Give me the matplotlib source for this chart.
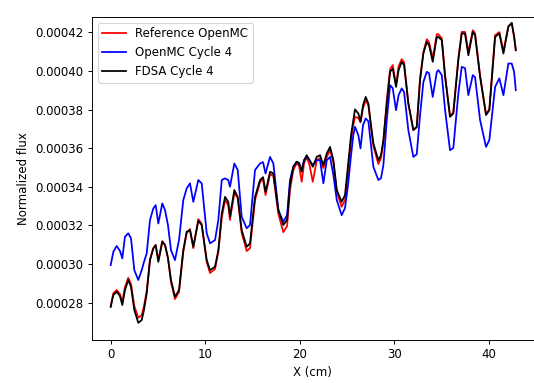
import matplotlib
matplotlib.use("Agg")
import matplotlib.pyplot as plt
import numpy as np

# x positions (cm)
x_cm = [0.00, 0.28, 0.63, 0.98, 1.23, 1.51, 1.86, 2.15, 2.50, 2.92, 3.28, 3.52, 3.81, 4.16, 4.51, 4.76, 5.04, 5.46, 5.75,
        6.06, 6.38, 6.80, 7.23, 7.68, 8.04, 8.39, 8.74, 9.27, 9.63, 10.16, 10.51, 11.04, 11.39,
        11.75, 12.10, 12.44, 12.62, 13.08, 13.44, 13.86, 14.39, 14.74, 15.27, 15.80, 16.12, 16.38, 16.86, 17.21, 17.74, 18.26, 18.66, 18.97,
        19.32, 19.68, 19.93, 20.21, 20.46, 20.74, 21.04, 21.38, 21.80, 22.15, 22.50, 22.86, 23.21, 23.56, 23.92, 24.44, 24.79,
        25.11, 25.43, 25.67, 25.85, 26.20, 26.43, 26.70, 26.98, 27.26, 27.54, 27.79, 28.32, 28.60, 28.85, 29.21, 29.56, 29.84, 30.19, 30.46, 30.79, 31.04, 31.49, 32.02, 32.38, 32.73,
        33.08, 33.44, 33.68, 34.07, 34.50, 34.67, 35.03, 35.38, 35.90, 36.25, 36.78, 37.14, 37.49, 37.84, 38.31, 38.55, 39.08, 39.71, 40.06, 40.67, 41.12, 41.55, 42.07, 42.43, 42.68, 42.86]

# flux values in units of 1e-5
ref_openmc = [27.82, 28.49, 28.65, 28.44, 28.03, 28.80, 29.29, 28.96, 27.82, 27.21, 27.35, 27.82, 28.60, 30.25, 30.82, 30.98, 30.20, 31.19, 30.98,
              30.31, 29.06, 28.18, 28.54, 30.62, 31.60, 31.81, 30.82, 32.33, 32.07, 30.10, 29.53, 29.74, 30.62,
              32.38, 33.31, 33.05, 32.28, 33.67, 33.42, 31.60, 30.67, 30.82, 33.31, 34.24, 34.40, 33.57, 34.66, 34.55, 32.59, 31.65, 31.96, 33.83,
              34.87, 35.23, 35.07, 34.26, 35.23, 35.54, 35.12, 34.26, 35.38, 35.49, 34.97, 35.54, 35.90, 35.28, 33.73, 32.96, 33.31,
              34.76, 36.42, 37.20, 37.63, 37.56, 37.35, 38.08, 38.49, 38.23, 37.09, 36.11, 35.18, 35.49, 36.32, 38.49, 40.10, 40.31, 39.27, 40.25, 40.62, 40.46, 38.34, 36.94, 37.09, 39.63,
              40.98, 41.65, 41.50, 40.67, 41.91, 41.91, 41.70, 39.79, 37.66, 37.87, 40.67, 42.03, 42.03, 40.98, 42.12, 41.96, 39.79, 37.77, 38.03, 41.86, 42.02, 41.03, 42.33, 42.48, 41.81, 41.08]

openmc_c4 = [29.94, 30.63, 30.93, 30.68, 30.29, 31.41, 31.59, 31.33, 29.68, 29.17, 29.68, 30.10, 30.55, 32.28, 32.88, 33.05, 32.10, 33.14, 32.79,
             32.02, 30.72, 30.20, 31.24, 33.31, 33.92, 34.18, 33.22, 34.35, 34.18, 31.59, 31.07, 31.24, 32.28,
             34.35, 34.44, 34.35, 34.00, 35.21, 34.87, 32.45, 31.85, 32.02, 34.87, 35.21, 35.28, 34.69, 35.55, 35.21, 32.79, 32.19, 32.53, 34.35,
             35.04, 35.30, 35.23, 34.87, 35.38, 35.54, 35.38, 35.12, 35.38, 35.38, 34.18, 35.38, 35.55, 34.61, 33.31, 32.53, 32.90,
             34.09, 35.64, 36.68, 37.11, 36.68, 35.99, 37.20, 37.54, 37.40, 36.16, 35.04, 34.35, 34.45, 35.12, 37.46, 39.27, 39.11, 37.97, 38.75, 39.10, 38.91, 36.94, 35.55, 35.69, 37.72,
             39.43, 39.96, 39.89, 38.66, 39.94, 40.05, 39.79, 37.97, 35.90, 36.01, 38.84, 40.22, 40.15, 38.75, 39.79, 39.68, 37.46, 36.07, 36.42, 39.18, 39.62, 38.75, 40.39, 40.39, 39.96, 39.01]

fdsa_c4 = [27.77, 28.39, 28.56, 28.34, 27.87, 28.65, 29.17, 28.82, 27.61, 26.95, 27.09, 27.61, 28.48, 30.20, 30.81, 30.98, 30.11, 31.15, 30.98,
           30.31, 29.17, 28.30, 28.65, 30.72, 31.67, 31.76, 30.89, 32.24, 32.02, 30.20, 29.68, 29.86, 30.72,
           32.62, 33.48, 33.22, 32.45, 33.83, 33.48, 31.76, 30.89, 31.07, 33.48, 34.35, 34.50, 33.73, 34.78, 34.69, 32.79, 32.02, 32.28, 34.09,
           35.04, 35.30, 35.23, 34.78, 35.38, 35.64, 35.38, 35.04, 35.55, 35.64, 35.12, 35.73, 36.07, 35.38, 33.83, 33.22, 33.57,
           35.12, 36.68, 37.46, 38.01, 37.80, 37.37, 38.23, 38.66, 38.32, 37.20, 36.25, 35.38, 35.64, 36.42, 38.32, 39.96, 40.13, 39.18, 40.05, 40.48, 40.31, 38.32, 36.94, 37.11, 39.53,
           40.91, 41.51, 41.34, 40.48, 41.76, 41.77, 41.60, 39.70, 37.63, 37.80, 40.56, 41.95, 41.95, 40.82, 42.03, 41.86, 39.70, 37.72, 37.97, 41.77, 41.95, 40.91, 42.29, 42.50, 41.77, 41.08]

x = np.array(x_cm)
ref = np.array(ref_openmc) * 1e-5
omc = np.array(openmc_c4) * 1e-5
fdsa = np.array(fdsa_c4) * 1e-5

fig = plt.figure(figsize=(534 / 85, 383 / 85), dpi=85)
ax = fig.add_axes([0.1717, 0.1123, 0.8275, 0.8437])

ax.plot(x, ref, color="r", label="Reference OpenMC")
ax.plot(x, omc, color="b", label="OpenMC Cycle 4")
ax.plot(x, fdsa, color="k", label="FDSA Cycle 4")

ax.set_xlim(-2.01, 44.74)
ax.set_ylim(0.0002606, 0.0004281)
ax.set_yticks(np.arange(0.00028, 0.000425, 0.00002))
ax.set_xlabel("X (cm)")
ax.set_ylabel("Normalized flux")
ax.legend(loc="upper left")

fig.savefig("out.png", dpi=85)
